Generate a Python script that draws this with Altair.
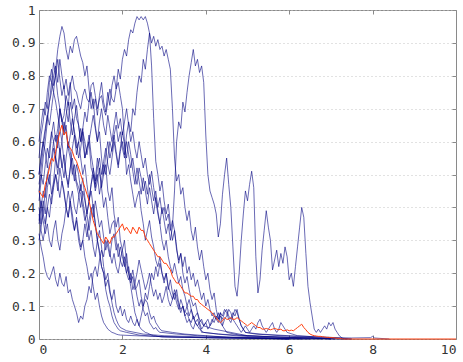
import altair as alt
import pandas as pd

STEP = 0.05  # sampling step of the dense part of each path

x_ticks = [0, 2, 4, 6, 8, 10]
y_ticks = [0, 0.1, 0.2, 0.3, 0.4, 0.5, 0.6, 0.7, 0.8, 0.9, 1.0]

# ---- navy sample paths (dense y values every STEP from x=0, then sparse tail) ----
n1_y = [0.45,0.5,0.47,0.53,0.58,0.55,0.62,0.66,0.6,0.64,0.7,0.67,0.63,0.68,0.72,0.66,0.62,0.67,0.71,0.65,
        0.6,0.64,0.69,0.66,0.72,0.75,0.7,0.73,0.68,0.74,0.78,0.72,0.69,0.75,0.71,0.77,0.8,0.76,0.82,0.79,
        0.85,0.88,0.86,0.91,0.94,0.93,0.96,0.98,0.97,0.98,0.97,0.98,0.96,0.93,0.9,0.92,0.89,0.91,0.88,0.89,
        0.86,0.88,0.85,0.82,0.7,0.55,0.48,0.5,0.44,0.46,0.4,0.36,0.39,0.33,0.3,0.34,0.28,0.24,0.27,0.22,
        0.18,0.2,0.15,0.12,0.14,0.09,0.06,0.08,0.04,0.03,0.02]
n1_tx = [4.8, 5.3, 6.0, 6.6, 7.1]
n1_ty = [0.012, 0.008, 0.005, 0.003, 0.0]

n2_y = [0.4,0.35,0.42,0.38,0.46,0.5,0.44,0.48,0.55,0.52,0.58,0.53,0.49,0.55,0.6,0.57,0.52,0.48,0.53,0.5,
        0.45,0.49,0.43,0.38,0.42,0.47,0.52,0.48,0.55,0.51,0.46,0.5,0.56,0.6,0.55,0.58,0.62,0.57,0.53,0.58,
        0.63,0.59,0.55,0.6,0.56,0.51,0.47,0.52,0.48,0.44,0.49,0.45,0.41,0.46,0.42,0.38,0.43,0.39,0.35,0.4,
        0.36,0.32,0.35,0.3,0.34,0.45,0.6,0.66,0.64,0.72,0.69,0.75,0.8,0.84,0.88,0.83,0.85,0.81,0.83,0.78,
        0.62,0.5,0.45,0.43,0.41,0.38,0.31,0.35,0.44,0.5,0.55,0.47,0.4,0.28,0.16,0.13,0.2,0.3,0.38,0.45,
        0.42,0.47,0.51,0.46,0.25,0.14,0.18,0.27,0.33,0.39,0.34,0.3,0.21,0.24,0.27,0.22,0.26,0.23,0.28,0.25,
        0.18,0.2,0.16,0.22,0.28,0.34,0.4,0.37,0.26,0.16,0.11,0.07,0.03,0.02,0.03,0.02,0.03,0.04,0.03,0.05,
        0.04,0.05,0.03,0.02,0.01,0.005,0.0]
n2_tx = []
n2_ty = []

n3_y = [0.42,0.48,0.55,0.6,0.66,0.72,0.78,0.75,0.82,0.88,0.92,0.95,0.93,0.88,0.85,0.89,0.87,0.91,0.92,0.89,
        0.86,0.84,0.8,0.83,0.76,0.7,0.73,0.65,0.6,0.63,0.55,0.5,0.53,0.45,0.42,0.46,0.38,0.34,0.37,0.3,
        0.27,0.3,0.23,0.2,0.16,0.12,0.08,0.06,0.04,0.03,0.025,0.02,0.018,0.015,0.012,0.01,0.01,0.008,0.007,0.006]
n3_tx = [3.5, 4.5, 5.5, 6.3]
n3_ty = [0.005, 0.003, 0.002, 0.0]

n5_y = [0.5,0.56,0.6,0.64,0.68,0.72,0.75,0.8,0.83,0.78,0.85,0.8,0.76,0.79,0.74,0.78,0.7,0.73,0.67,0.65,
        0.6,0.64,0.55,0.58,0.6,0.52,0.5,0.45,0.48,0.52,0.46,0.4,0.43,0.37,0.32,0.35,0.36,0.3,0.25,0.28,
        0.25,0.22,0.26,0.2,0.17,0.19,0.15,0.16,0.18,0.13,0.1,0.12,0.11,0.08,0.06,0.07,0.05,0.04,0.03,0.025]
n5_tx = [3.2, 3.5, 4.0, 4.6, 5.2, 6.0]
n5_ty = [0.02, 0.015, 0.01, 0.005, 0.003, 0.0]

n6_y = [0.35,0.4,0.45,0.43,0.5,0.53,0.55,0.6,0.62,0.58,0.7,0.66,0.68,0.74,0.71,0.77,0.8,0.76,0.75,0.72,
        0.7,0.74,0.76,0.73,0.72,0.77,0.78,0.74,0.7,0.73,0.74,0.7,0.68,0.72,0.76,0.73,0.72,0.76,0.78,0.74,
        0.7,0.6,0.5,0.53,0.48,0.44,0.4,0.43,0.45,0.39,0.35,0.3,0.33,0.36,0.31,0.28,0.24,0.22,0.25,0.2,
        0.18,0.2,0.16,0.14,0.12,0.15,0.13,0.1,0.08,0.1,0.07,0.05,0.06,0.04,0.03,0.05,0.06,0.04,0.02,0.02]
n6_tx = [4.3, 4.7, 5.3, 6.0, 6.8]
n6_ty = [0.015, 0.01, 0.005, 0.002, 0.0]

n7_y = [0.32,0.28,0.25,0.21,0.19,0.18,0.2,0.22,0.18,0.16,0.2,0.17,0.16,0.19,0.14,0.15,0.12,0.1,0.08,0.05,
        0.07,0.06,0.1,0.12,0.16,0.14,0.2,0.22,0.19,0.24,0.27,0.25,0.3,0.28,0.25,0.3,0.32,0.27,0.29,0.24,
        0.22,0.25,0.2,0.18,0.2,0.15,0.17,0.13,0.1,0.12,0.09,0.07,0.08,0.05,0.04,0.03,0.035,0.025,0.02,0.02]
n7_tx = [3.3, 3.8, 4.5, 5.5, 6.5, 7.4]
n7_ty = [0.015, 0.01, 0.006, 0.003, 0.002, 0.0]

n8_y = [0.45,0.4,0.36,0.32,0.35,0.3,0.28,0.33,0.36,0.3,0.27,0.32,0.35,0.4,0.37,0.42,0.45,0.4,0.38,0.43,
        0.47,0.42,0.38,0.34,0.3,0.33,0.28,0.25,0.3,0.26,0.22,0.2,0.16,0.18,0.14,0.12,0.15,0.1,0.08,0.1,
        0.07,0.09,0.06,0.05,0.07,0.05,0.04,0.06,0.04,0.07,0.1,0.14,0.12,0.16,0.2,0.18,0.22,0.19,0.23,0.2,
        0.17,0.2,0.15,0.18,0.14,0.12,0.15,0.11,0.09,0.1,0.07,0.08,0.06,0.05,0.07,0.05,0.04,0.05,0.03,0.04,
        0.05,0.06,0.04,0.05,0.07,0.06,0.08,0.05,0.04,0.06,0.07,0.09,0.08,0.06,0.05,0.04,0.03,0.02,0.03,0.02]
n8_tx = [5.3, 6.0, 7.0, 7.5]
n8_ty = [0.015, 0.01, 0.005, 0.0]

n9_y = [0.38,0.33,0.3,0.34,0.4,0.37,0.43,0.47,0.5,0.45,0.52,0.48,0.44,0.4,0.45,0.41,0.36,0.33,0.37,0.32,
        0.28,0.3,0.35,0.31,0.36,0.4,0.37,0.42,0.38,0.34,0.36,0.31,0.27,0.3,0.26,0.23,0.26,0.22,0.2,0.24,
        0.27,0.23,0.2,0.22,0.18,0.21,0.17,0.2,0.24,0.21,0.18,0.15,0.17,0.2,0.16,0.13,0.15,0.12,0.14,0.11,
        0.13,0.16,0.12,0.1,0.12,0.14,0.11,0.09,0.12,0.1,0.08,0.1,0.07,0.09,0.06,0.07,0.08,0.05,0.06,0.04,
        0.05,0.03,0.04,0.06,0.05,0.07,0.06,0.08,0.07,0.09,0.08,0.06,0.05,0.07,0.09,0.08,0.06,0.04,0.03,0.04,
        0.03,0.02,0.03,0.04,0.03,0.05,0.06,0.04,0.03,0.02,0.03,0.04,0.05,0.03,0.02,0.03,0.05,0.04,0.03,0.02]
n9_tx = [6.2, 6.8, 7.5, 7.95, 8.0, 8.05, 8.4]
n9_ty = [0.01, 0.005, 0.003, 0.004, 0.008, 0.003, 0.0]

n10_y = [0.5,0.55,0.6,0.57,0.52,0.58,0.63,0.6,0.55,0.5,0.56,0.6,0.54,0.5,0.47,0.52,0.58,0.62,0.56,0.6,
         0.64,0.6,0.55,0.58,0.62,0.56,0.52,0.47,0.5,0.44,0.48,0.53,0.5,0.55,0.6,0.57,0.62,0.65,0.6,0.63,
         0.58,0.55,0.6,0.56,0.52,0.55,0.5,0.47,0.52,0.49,0.45,0.48,0.44,0.5,0.46,0.42,0.45,0.4,0.43,0.38,
         0.4,0.36,0.38,0.33,0.36,0.33,0.28,0.23,0.26,0.22,0.25,0.2,0.22,0.18,0.2,0.16,0.18,0.15,0.12,0.14,
         0.1,0.12,0.09,0.07,0.08,0.06,0.05,0.07,0.06,0.08,0.09,0.07,0.06,0.08,0.07,0.09,0.06,0.04,0.03,0.02]
n10_tx = [5.2, 5.8, 6.5, 7.0]
n10_ty = [0.015, 0.01, 0.005, 0.0]

n11_y = [0.47,0.52,0.58,0.63,0.68,0.65,0.7,0.75,0.72,0.68,0.64,0.6,0.66,0.63,0.58,0.62,0.67,0.63,0.6,0.55,
         0.58,0.63,0.6,0.56,0.6,0.64,0.68,0.64,0.6,0.66,0.7,0.65,0.62,0.68,0.64,0.6,0.65,0.69,0.64,0.67,
         0.62,0.66,0.7,0.65,0.6,0.63,0.58,0.55,0.6,0.56,0.52,0.55,0.5,0.47,0.51,0.46,0.42,0.38,0.35,0.3,
         0.27,0.3,0.25,0.22,0.2,0.23,0.2,0.17,0.19,0.15,0.13,0.1,0.12,0.09,0.07,0.05,0.04,0.03,0.025,0.02]
n11_tx = [4.3, 5.0, 5.8, 6.8, 7.5]
n11_ty = [0.015, 0.01, 0.005, 0.002, 0.0]

n12_y = [0.55,0.62,0.66,0.72,0.7,0.78,0.82,0.77,0.8,0.74,0.7,0.66,0.62,0.65,0.58,0.55,0.5,0.53,0.48,0.46,
         0.44,0.4,0.36,0.38,0.33,0.38,0.41,0.35,0.3,0.27,0.22,0.2,0.15,0.12,0.1,0.07,0.05,0.04,0.03,0.025]
n12_tx = [2.1, 2.4, 2.8, 3.5, 4.5, 5.5, 6.5]
n12_ty = [0.02, 0.012, 0.008, 0.005, 0.003, 0.002, 0.0]

n13_y = [0.36,0.42,0.38,0.45,0.5,0.47,0.53,0.58,0.55,0.62,0.57,0.52,0.56,0.5,0.46,0.52,0.55,0.5,0.47,0.44,
         0.4,0.45,0.42,0.38,0.42,0.47,0.5,0.46,0.52,0.55,0.5,0.54,0.58,0.53,0.5,0.55,0.6,0.56,0.52,0.57,
         0.6,0.56,0.62,0.66,0.63,0.7,0.68,0.75,0.8,0.78,0.85,0.82,0.88,0.93,0.83,0.67,0.54,0.5,0.45,0.48,
         0.42,0.38,0.41,0.35,0.3,0.33,0.27,0.24,0.26,0.2,0.17,0.19,0.15,0.12,0.1,0.11,0.08,0.06,0.05,0.04]
n13_tx = [4.2, 4.6, 5.0, 6.0, 7.0]
n13_ty = [0.03, 0.02, 0.01, 0.005, 0.0]

n14_y = [0.6,0.65,0.7,0.68,0.75,0.8,0.78,0.84,0.8,0.85,0.79,0.74,0.77,0.7,0.66,0.72,0.68,0.62,0.58,0.6,
         0.55,0.5,0.53,0.47,0.42,0.45,0.4,0.35,0.3,0.33,0.28,0.22,0.18,0.2,0.15,0.11,0.08,0.06,0.045,0.035]
n14_tx = [2.1, 2.5, 3.0, 4.0, 5.0, 6.0]
n14_ty = [0.025, 0.015, 0.01, 0.006, 0.003, 0.0]

n15_y = [0.3,0.34,0.38,0.35,0.4,0.44,0.41,0.46,0.5,0.47,0.43,0.48,0.45,0.4,0.37,0.42,0.38,0.33,0.36,0.3,
         0.27,0.3,0.25,0.22,0.18,0.2,0.16,0.12,0.14,0.1,0.07,0.05,0.04,0.03,0.025,0.02,0.018,0.015,0.013,0.012]
n15_tx = [2.3, 3.0, 4.0, 5.0, 6.0]
n15_ty = [0.01, 0.007, 0.004, 0.002, 0.0]

# ---- mean path (red) ----
mean_y = [0.45,0.44,0.43,0.47,0.49,0.52,0.55,0.54,0.57,0.6,0.63,0.65,0.62,0.63,0.59,0.58,0.57,0.55,0.54,0.52,
          0.5,0.48,0.46,0.44,0.42,0.39,0.36,0.34,0.32,0.31,0.3,0.29,0.31,0.3,0.29,0.31,0.31,0.32,0.33,0.34,
          0.35,0.33,0.34,0.33,0.32,0.34,0.33,0.32,0.34,0.33,0.33,0.31,0.3,0.29,0.28,0.27,0.26,0.25,0.25,0.24,
          0.23,0.23,0.22,0.21,0.19,0.18,0.17,0.17,0.16,0.15,0.14,0.14,0.135,0.13,0.13,0.12,0.12,0.11,0.105,0.1,
          0.095,0.09,0.085,0.08,0.07,0.065,0.055,0.05,0.055,0.065,0.06,0.06,0.065,0.06,0.06,0.065,0.06,0.055,0.05,0.045,
          0.04,0.045,0.05,0.045,0.04,0.035,0.035,0.03,0.03,0.032,0.03,0.028,0.03,0.032,0.03,0.028,0.03,0.025,0.025,0.028,
          0.025,0.027,0.025,0.03,0.035,0.04,0.045,0.035,0.028,0.02,0.015,0.012,0.01,0.009,0.008,0.008,0.007,0.006,0.005,0.005,
          0.004,0.004,0.003,0.002,0.002,0.001,0.0]
mean_tx = [10.0]
mean_ty = [0.0]

paths = [
    ("n1", n1_y, n1_tx, n1_ty), ("n2", n2_y, n2_tx, n2_ty), ("n3", n3_y, n3_tx, n3_ty),
    ("n5", n5_y, n5_tx, n5_ty), ("n6", n6_y, n6_tx, n6_ty), ("n7", n7_y, n7_tx, n7_ty),
    ("n8", n8_y, n8_tx, n8_ty), ("n9", n9_y, n9_tx, n9_ty), ("n10", n10_y, n10_tx, n10_ty),
    ("n11", n11_y, n11_tx, n11_ty), ("n12", n12_y, n12_tx, n12_ty), ("n13", n13_y, n13_tx, n13_ty),
    ("n14", n14_y, n14_tx, n14_ty), ("n15", n15_y, n15_tx, n15_ty),
]


def build(name, dense, tx, ty, start):
    rows = []
    k = start
    for i, v in enumerate(dense):
        rows.append({"s": name, "x": round(i * STEP, 4), "y": v, "o": k})
        k += 1
    for a, b in zip(tx, ty):
        rows.append({"s": name, "x": a, "y": b, "o": k})
        k += 1
    return rows


navy_rows = []
for p in paths:
    navy_rows += build(*p, start=len(navy_rows))
navy_df = pd.DataFrame(navy_rows)
mean_df = pd.DataFrame(build("mean", mean_y, mean_tx, mean_ty, 0))

xs = alt.Scale(domain=[0, 10], nice=False, zero=False)
ys = alt.Scale(domain=[0, 1], nice=False, zero=False)

label_font = "DejaVu Sans Mono"
axis_common = dict(domain=False, ticks=True, tickSize=4, offset=-4,
                   tickColor="#8a8a8a", labelFont=label_font, labelFontSize=13,
                   labelColor="#333333", title=None)

bottom_axis = alt.Axis(orient="bottom", values=x_ticks, format="d", grid=False,
                       labelPadding=4, **axis_common)
left_axis = alt.Axis(orient="left", values=y_ticks, format="~g", grid=True,
                     gridColor="#c4c4c4", gridDash=[1, 3], gridWidth=1,
                     labelPadding=4, **axis_common)
top_axis = alt.Axis(orient="top", values=x_ticks, labels=False, grid=False, **axis_common)
right_axis = alt.Axis(orient="right", values=y_ticks, labels=False, grid=False, **axis_common)

navy = alt.Chart(navy_df).mark_line(color="#000080", strokeWidth=0.9, opacity=0.65).encode(
    x=alt.X("x:Q", scale=xs, axis=bottom_axis),
    y=alt.Y("y:Q", scale=ys, axis=left_axis),
    detail="s:N",
    order="o:Q",
)

mean = alt.Chart(mean_df).mark_line(color="#ff4010", strokeWidth=1).encode(
    x=alt.X("x:Q", scale=xs, axis=top_axis),
    y=alt.Y("y:Q", scale=ys, axis=right_axis),
    order="o:Q",
)

chart = alt.layer(navy, mean).resolve_axis(x="independent", y="independent").properties(
    width=417, height=329,
    autosize=alt.AutoSizeParams(type="none"),
    padding={"left": 39, "top": 10, "right": 7, "bottom": 23},
    background="white",
).configure_view(stroke="#8a8a8a", strokeWidth=1)

chart.save("out.html", embed_options={"renderer": "svg", "actions": False})
